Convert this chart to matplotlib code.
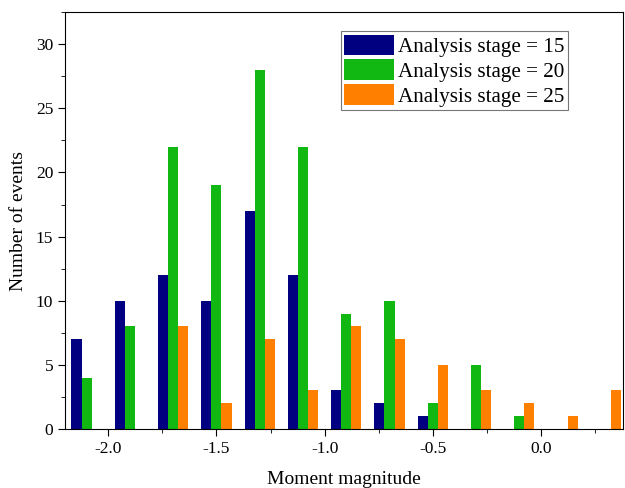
import numpy as np
import matplotlib
matplotlib.use('Agg')
import matplotlib.pyplot as plt
from matplotlib.ticker import MultipleLocator

plt.rcParams['font.family'] = ['Liberation Serif', 'DejaVu Serif']

bin_centers = [-2.1, -1.9, -1.7, -1.5, -1.3, -1.1, -0.9, -0.7, -0.5, -0.3, -0.1, 0.1, 0.3]
stage15 = [7, 10, 12, 10, 17, 12, 3, 2, 1, 0, 0, 0, 0]
stage20 = [4, 8, 22, 19, 28, 22, 9, 10, 2, 5, 1, 0, 0]
stage25 = [0, 0, 8, 2, 7, 3, 8, 7, 5, 3, 2, 1, 3]
labels = ['Analysis stage = 15', 'Analysis stage = 20', 'Analysis stage = 25']
colors = ['#000080', '#11b811', '#ff7f00']

fig = plt.figure(figsize=(6.25, 4.88), dpi=100)
ax = fig.add_axes([0.104, 0.121, 0.893, 0.854])

x = np.array(bin_centers)
w = 0.2 * 0.7 / 3
for k, (vals, lab, c) in enumerate(zip([stage15, stage20, stage25], labels, colors)):
    ax.bar(x + (k - 1) * w, vals, width=w, color=c, label=lab, linewidth=0)

ax.set_xlim(-2.2, 0.38)
ax.set_ylim(0, 32.5)
ax.xaxis.set_major_locator(MultipleLocator(0.5))
ax.xaxis.set_minor_locator(MultipleLocator(0.25))
ax.yaxis.set_major_locator(MultipleLocator(5))
ax.yaxis.set_minor_locator(MultipleLocator(2.5))
ax.xaxis.set_major_formatter(matplotlib.ticker.FormatStrFormatter('%.1f'))
ax.tick_params(which='major', direction='out', length=5, labelsize=12.5, top=False, right=False)
ax.tick_params(which='minor', direction='out', length=3, top=False, right=False)

ax.set_xlabel('Moment magnitude', fontsize=14, labelpad=10)
ax.set_ylabel('Number of events', fontsize=14, labelpad=6)

leg = ax.legend(loc='upper right', bbox_to_anchor=(0.901, 0.954), fontsize=15.2,
                frameon=True, fancybox=False, edgecolor='#555555',
                handlelength=2.35, handleheight=1.15, labelspacing=0.1,
                handletextpad=0.2, borderpad=0.15, borderaxespad=0.0)
leg.get_frame().set_linewidth(0.8)

fig.savefig('out.png', dpi=100)
